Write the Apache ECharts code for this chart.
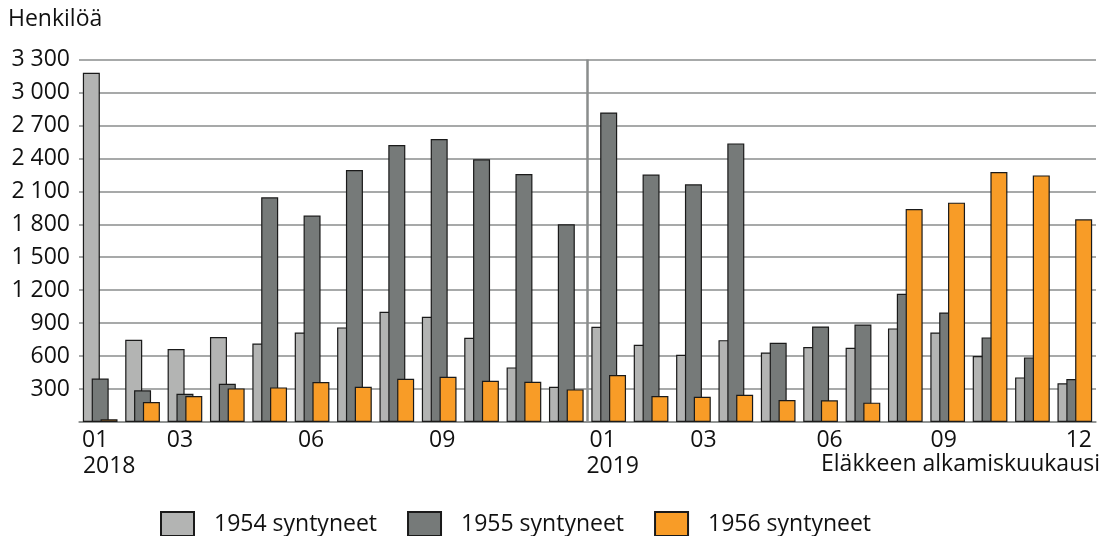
<!DOCTYPE html>
<html>
<head>
<meta charset="utf-8">
<script src="https://cdn.jsdelivr.net/npm/echarts@6/dist/echarts.min.js"></script>
<style>
html, body { margin: 0; padding: 0; background: #ffffff; }
#chart { width: 1102px; height: 536px; }
</style>
</head>
<body>
<div id="chart"></div>
<script>
const months = ['2018-01','2018-02','2018-03','2018-04','2018-05','2018-06','2018-07','2018-08','2018-09','2018-10','2018-11','2018-12',
                '2019-01','2019-02','2019-03','2019-04','2019-05','2019-06','2019-07','2019-08','2019-09','2019-10','2019-11','2019-12'];
const monthLabels = ['01','','03','','','06','','','09','','','','01','','03','','','06','','','09','','','12'];
const yearLabels = ['2018','','','','','','','','','','','','2019','','','','','','','','','','',''];
const seriesNames = ['1954 syntyneet', '1955 syntyneet', '1956 syntyneet'];
const born1954 = [3180, 748, 664, 773, 715, 815, 861, 1003, 957, 767, 497, 321, 867, 703, 612, 745, 633, 682, 676, 852, 815, 600, 406, 352];
const born1955 = [395, 288, 257, 348, 2045, 1879, 2294, 2521, 2576, 2391, 2258, 1800, 2818, 2252, 2164, 2536, 721, 870, 888, 1167, 997, 770, 588, 391];
const born1956 = [25, 182, 236, 306, 315, 364, 321, 394, 412, 376, 367, 297, 427, 236, 230, 248, 200, 197, 176, 1939, 1997, 2276, 2245, 1845];
const yTicks = { min: 0, max: 3300, interval: 300 };
const colors = ['#b3b4b3', '#767a79', '#f89c27'];

// small horizontal nudges of tick labels (px), styling only
const monthNudge = { 0: -5, 2: -5, 5: -1, 8: 3, 12: -6, 14: 10, 17: 9, 20: -4, 23: 4 };
const yearNudge = { 0: 9, 12: 4 };

const font = '"Open Sans", "DejaVu Sans", sans-serif';
const FS = 23;
const fmt = v => v === 0 ? '' : String(v).replace(/\B(?=(\d{3})+(?!\d))/g, ' ');

function nudgeRich(nudges) {
  const rich = {};
  Object.keys(nudges).forEach(k => {
    const s = nudges[k];
    rich['n' + k] = { fontSize: FS, fontFamily: font, color: '#111',
      padding: s >= 0 ? [0, 0, 0, 2 * s] : [0, -2 * s, 0, 0] };
  });
  return rich;
}
function nudgeFmt(labels, nudges) {
  return (v, i) => labels[i] ? ('{n' + i + '|' + labels[i] + '}') : '';
}

const boundaryIndex = months.indexOf('2019-01');

const chart = echarts.init(document.getElementById('chart'), null, { renderer: 'canvas' });
const values = [born1954, born1955, born1956];

const barSeries = seriesNames.map((name, k) => ({
  name, type: 'bar', xAxisIndex: 0, yAxisIndex: 0, data: values[k],
  barWidth: 17, barGap: '-48%',
  itemStyle: { color: colors[k], borderColor: '#1a1a1a', borderWidth: 1.2 }
}));

chart.setOption({
  animation: false,
  textStyle: { fontFamily: font },
  title: [
    { text: 'Henkilöä', left: 3, top: 3, textStyle: { fontFamily: font, fontSize: FS, fontWeight: 'normal', color: '#111' } },
    { text: 'Eläkkeen alkamiskuukausi', right: -3, top: 448, textStyle: { fontFamily: font, fontSize: FS, fontWeight: 'normal', color: '#111' } }
  ],
  legend: {
    left: 155, top: 506, itemWidth: 33, itemHeight: 24, itemGap: 30,
    icon: 'rect',
    data: seriesNames,
    textStyle: { fontFamily: font, fontSize: FS, color: '#111', padding: [0, 0, 0, 15] }
  },
  grid: { left: 79, right: 6, top: 59.5, bottom: 114 },
  xAxis: [
    {
      type: 'category', data: months, position: 'bottom',
      axisLine: { lineStyle: { color: '#8c8e8d', width: 1.5 } },
      axisTick: { show: false },
      splitLine: { show: false },
      axisLabel: { interval: 0, margin: 7, fontSize: FS, color: '#111', fontFamily: font,
                   formatter: nudgeFmt(monthLabels, monthNudge), rich: nudgeRich(monthNudge) }
    },
    {
      type: 'category', data: months, position: 'bottom',
      axisLine: { show: false }, axisTick: { show: false }, splitLine: { show: false },
      axisLabel: { interval: 0, margin: 33, fontSize: FS, color: '#111', fontFamily: font,
                   formatter: nudgeFmt(yearLabels, yearNudge), rich: nudgeRich(yearNudge) }
    },
    {
      type: 'value', min: 0, max: months.length, show: false, position: 'bottom'
    }
  ],
  yAxis: {
    type: 'value', min: yTicks.min, max: yTicks.max, interval: yTicks.interval,
    axisLine: { show: false }, axisTick: { show: false },
    axisLabel: { fontSize: FS, color: '#111', fontFamily: font, margin: 9, formatter: fmt },
    splitLine: { lineStyle: { color: '#8a8c8c', width: 1.5 } }
  },
  series: barSeries.concat([{
    name: 'yearBoundary', type: 'line', xAxisIndex: 2, yAxisIndex: 0,
    data: [[boundaryIndex, 0]], symbolSize: 0, showSymbol: false, silent: true,
    lineStyle: { width: 0 },
    markLine: {
      symbol: 'none', silent: true, label: { show: false },
      lineStyle: { color: '#8a8d8c', width: 2.5, type: 'solid' },
      data: [{ xAxis: boundaryIndex }]
    }
  }])
});
</script>
</body>
</html>
